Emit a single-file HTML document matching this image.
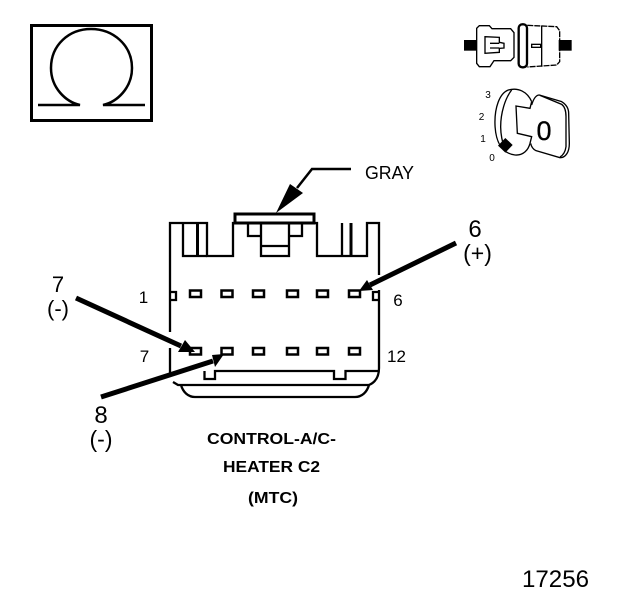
<!DOCTYPE html>
<html>
<head>
<meta charset="utf-8">
<style>
html,body{margin:0;padding:0;background:#fff;}
svg{display:block;}
text{font-family:"Liberation Sans",sans-serif;fill:#000;}
</style>
</head>
<body>
<svg width="624" height="600" viewBox="0 0 624 600" xmlns="http://www.w3.org/2000/svg">
<rect width="624" height="600" fill="#fff"/>

<!-- Omega box -->
<g fill="none" stroke="#000">
<rect x="31.5" y="25.5" width="120" height="95" stroke-width="3"/>
<path d="M38 105H80C66 102 51 88 51 68C51 45 69 29 91 29C113 29 132 45 132 68C132 88 117 102 103 105H145" stroke-width="2.5"/>
</g>

<!-- Connector icon -->
<g transform="translate(440,10) scale(.33333)" fill="none" stroke="#000" stroke-width="4">
<rect x="72" y="90" width="38" height="32" fill="#000" stroke="none"/>
<rect x="356" y="90" width="39" height="32" fill="#000" stroke="none"/>
<path d="M118 47H148L156 56H212L222 68V142L212 152H162L150 170H118L110 160V55Z"/>
<path d="M135 80L178 82V97L192 100V114L178 115V127L135 130Z"/>
<path d="M150 100H178M150 114H178"/>
<path d="M262 46L350 50L359 62V155L350 165L262 171" stroke-dasharray="18 3"/>
<rect x="236" y="43" width="25" height="129" rx="11" stroke-width="7"/>
<path d="M305 47V170"/>
<rect x="275" y="103" width="27" height="9"/>
</g>

<!-- Key icon -->
<g transform="translate(440,10) scale(.33333)" fill="none" stroke="#000" stroke-width="4">
<path d="M275 275C262 245 235 232 205 240C178 250 163 295 165 345C167 395 185 430 225 435C250 437 265 420 270 400"/>
<path d="M215 240C195 265 182 310 182 350C182 375 188 400 195 420"/>
<path d="M275 275L270 295L228 288L232 370L275 380L270 400"/>
<path d="M275 285C280 268 288 255 298 255L365 275C378 283 386 295 386 310L388 400C388 425 378 443 360 443L288 422C278 417 274 410 272 400"/>
<path d="M300 256L365 283C374 290 378 305 378 320V410C376 425 370 435 360 441"/>
<path d="M196 384L218 405L196 428L174 407Z" fill="#000" stroke="none"/>
</g>
<text x="544" y="140" font-size="27" text-anchor="middle" stroke="#000" stroke-width=".3">0</text>
<text x="488" y="98" font-size="10" text-anchor="middle">3</text>
<text x="481.500" y="120" font-size="10" text-anchor="middle">2</text>
<text x="483" y="142" font-size="10" text-anchor="middle">1</text>
<text x="492" y="161" font-size="10" text-anchor="middle">0</text>

<!-- Connector body -->
<g fill="none" stroke="#000" stroke-width="2.300">
<path d="M170 332V223H207V256H233V223H317V256H367V223H379V275"/>
<path d="M183 223V256H207"/>
<path d="M342 223V256"/>
<path d="M197.500 223V256" stroke-width="3"/>
<path d="M351 223V256" stroke-width="3"/>
<rect x="235" y="214" width="79" height="9" stroke-width="3"/>
<path d="M248 223V236H261M289 236H302V223"/>
<path d="M261 223V256H289V223M261 246H289"/>
<path d="M170 348V377"/>
<path d="M379 290V368C379 376 376 382 369 385"/>
<path d="M173 382L178 385H369"/>
<path d="M181 385C183 392 188 397 195 397H355C362 397 367 392 369 385"/>
<path d="M204.500 371V379H215V371H334V379H345.500V371H379"/>
<path d="M170 292H176V300H170"/>
<path d="M379 292H373V300H379"/>
</g>

<!-- Pins -->
<g fill="#fff" stroke="#000" stroke-width="2.500">
<rect x="190" y="290.500" width="11" height="6.500"/>
<rect x="221.500" y="290.500" width="11" height="6.500"/>
<rect x="253" y="290.500" width="11" height="6.500"/>
<rect x="287" y="290.500" width="11" height="6.500"/>
<rect x="317" y="290.500" width="11" height="6.500"/>
<rect x="349" y="290.500" width="11" height="6.500"/>
<rect x="190" y="348" width="11" height="6.500"/>
<rect x="221.500" y="348" width="11" height="6.500"/>
<rect x="253" y="348" width="11" height="6.500"/>
<rect x="287" y="348" width="11" height="6.500"/>
<rect x="317" y="348" width="11" height="6.500"/>
<rect x="349" y="348" width="11" height="6.500"/>
</g>

<!-- Arrows -->
<path d="M351 169H312L297 188" stroke="#000" stroke-width="2.500" fill="none"/>
<g stroke="#000" stroke-width="5" fill="none">
<path d="M456 243L370 285"/>
<path d="M76 298L181 346"/>
<path d="M101 397L213 361"/>
</g>
<g fill="#000">
<path d="M276 213L290 184L303 193Z"/>
<path d="M359 291L367 280L373 290Z"/>
<path d="M195 352L185 340L178 352Z"/>
<path d="M224 354L212 355L215 367Z"/>
</g>

<!-- Labels -->
<text x="365" y="179" font-size="18" textLength="49" lengthAdjust="spacingAndGlyphs">GRAY</text>
<text x="475" y="237" font-size="24" text-anchor="middle">6</text>
<text x="477.500" y="261" font-size="23" text-anchor="middle">(+)</text>
<text x="58" y="292" font-size="22" text-anchor="middle">7</text>
<text x="58" y="316" font-size="22" text-anchor="middle">(-)</text>
<text x="101" y="423" font-size="24" text-anchor="middle">8</text>
<text x="101" y="447" font-size="23" text-anchor="middle">(-)</text>
<text x="143.500" y="303" font-size="17" text-anchor="middle">1</text>
<text x="144.500" y="362" font-size="17" text-anchor="middle">7</text>
<text x="398" y="306" font-size="17" text-anchor="middle">6</text>
<text x="396.500" y="362" font-size="17" text-anchor="middle">12</text>
<text x="207" y="444" font-size="16" font-weight="bold" textLength="129" lengthAdjust="spacingAndGlyphs">CONTROL-A/C-</text>
<text x="223" y="472" font-size="16" font-weight="bold" textLength="97" lengthAdjust="spacingAndGlyphs">HEATER C2</text>
<text x="248" y="503" font-size="16" font-weight="bold" textLength="50" lengthAdjust="spacingAndGlyphs">(MTC)</text>
<text x="522" y="587" font-size="24" textLength="67" lengthAdjust="spacingAndGlyphs">17256</text>
</svg>
</body>
</html>
